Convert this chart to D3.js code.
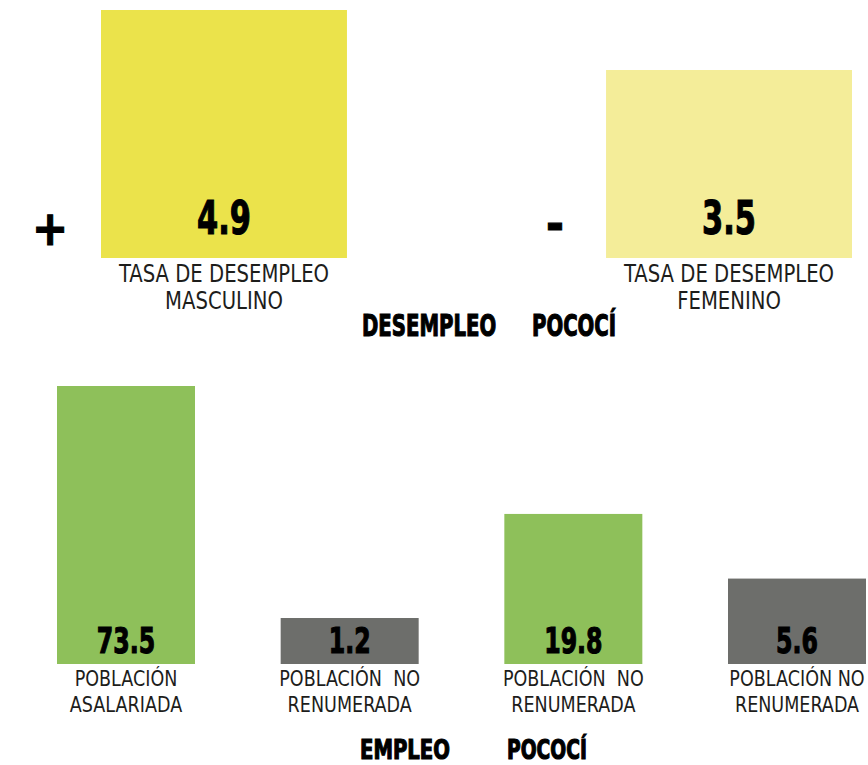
<!DOCTYPE html>
<html>
<head>
<meta charset="utf-8">
<script src="https://cdn.jsdelivr.net/npm/d3@7"></script>
<style>
  html, body { margin: 0; padding: 0; background: #fff; }
  svg { display: block; }
  text { font-family: "Liberation Sans Narrow", "DejaVu Sans Condensed", "Roboto", sans-serif; fill: #1d1d1b; white-space: pre; }
  .val, .title, .sign { font-weight: bold; fill: #000; stroke: #000; stroke-width: 1.1px; }
</style>
</head>
<body>
<div id="chart"></div>
<script>
// ── Data ────────────────────────────────────────────────────────────────
const topValues = [4.9, 3.5];
const topLabels = [["TASA DE DESEMPLEO", "MASCULINO"], ["TASA DE DESEMPLEO", "FEMENINO"]];
const topSigns = ["+", "-"];
const topColors = ["#ebe34b", "#f4ed99"];

const bottomValues = [73.5, 1.2, 19.8, 5.6];
const bottomLabels = [
  ["POBLACIÓN", "ASALARIADA"],
  ["POBLACIÓN  NO", "RENUMERADA"],
  ["POBLACIÓN  NO", "RENUMERADA"],
  ["POBLACIÓN NO", "RENUMERADA"]
];
const bottomColors = ["#8ec05a", "#6d6e6b", "#8ec05a", "#6d6e6b"];

const topTitle = ["DESEMPLEO", "POCOCÍ"];
const bottomTitle = ["EMPLEO", "POCOCÍ"];

// squeeze a text horizontally around its anchor (no narrow font available)
function condense(sel, f) {
  sel.each(function () {
    const t = d3.select(this);
    const x = +t.attr('x'), y = +t.attr('y');
    t.attr('x', 0).attr('y', 0).attr('transform', `translate(${x},${y}) scale(${f},1)`);
  });
}

// ── Chart ───────────────────────────────────────────────────────────────
const W = 868, H = 765;
const svg = d3.select('#chart').append('svg').attr('width', W).attr('height', H);

// top block
const topBase = 258;
const xTop = d3.scaleBand().domain(d3.range(topValues.length)).range([101, 852]).paddingInner(0.513);
const hTop = d3.scaleLinear().domain([0, 4.9]).range([38, 248]);

const topBars = svg.append('g').selectAll('g.bar').data(topValues).enter().append('g').attr('class', 'bar');

topBars.append('rect')
  .attr('x', (d, i) => xTop(i))
  .attr('y', d => topBase - hTop(d))
  .attr('width', xTop.bandwidth())
  .attr('height', d => hTop(d))
  .attr('fill', (d, i) => topColors[i]);

topBars.append('text')
  .attr('class', 'val')
  .attr('x', (d, i) => xTop(i) + xTop.bandwidth() / 2)
  .attr('y', topBase - 24)
  .attr('text-anchor', 'middle')
  .attr('font-size', 47)
  .text(d => d.toFixed(1))
  .call(condense, 0.72);

topBars.append('text')
  .attr('class', 'sign')
  .attr('x', (d, i) => xTop(i) - 51)
  .attr('y', (d, i) => i === 0 ? 245 : 240)
  .attr('text-anchor', 'middle')
  .attr('font-size', 48)
  .text((d, i) => topSigns[i]);

topBars.each(function (d, i) {
  const cx = xTop(i) + xTop.bandwidth() / 2;
  d3.select(this).selectAll('text.lbl').data(topLabels[i]).enter().append('text')
    .attr('class', 'lbl')
    .attr('text-anchor', 'middle')
    .attr('font-size', 24)
    .attr('x', cx)
    .attr('y', (line, k) => topBase + 24 + k * 27)
    .text(line => line)
    .call(condense, 0.91);
});

// top title
svg.append('text').attr('class', 'title').attr('x', 362).attr('y', 336).attr('font-size', 30)
  .text(topTitle[0]).call(condense, 0.73);
svg.append('text').attr('class', 'title').attr('x', 532).attr('y', 336).attr('font-size', 30)
  .text(topTitle[1]).call(condense, 0.73);

// bottom block
const botBase = 664;
const xBot = d3.scaleBand().domain(d3.range(bottomValues.length)).range([57, 866]).paddingInner(0.383);
const hBot = d3.scalePow().exponent(0.5).domain([0, 73.5]).range([12, 278]);

const bottomBars = svg.append('g').selectAll('g.bar').data(bottomValues).enter().append('g').attr('class', 'bar');

bottomBars.append('rect')
  .attr('x', (d, i) => xBot(i))
  .attr('y', d => botBase - hBot(d))
  .attr('width', xBot.bandwidth())
  .attr('height', d => hBot(d))
  .attr('fill', (d, i) => bottomColors[i]);

bottomBars.append('text')
  .attr('class', 'val')
  .attr('x', (d, i) => xBot(i) + xBot.bandwidth() / 2)
  .attr('y', botBase - 11)
  .attr('text-anchor', 'middle')
  .attr('font-size', 36)
  .text(d => d.toFixed(1))
  .call(condense, 0.73);

bottomBars.each(function (d, i) {
  const cx = xBot(i) + xBot.bandwidth() / 2;
  d3.select(this).selectAll('text.lbl').data(bottomLabels[i]).enter().append('text')
    .attr('class', 'lbl')
    .attr('text-anchor', 'middle')
    .attr('font-size', 21)
    .attr('x', cx)
    .attr('y', (line, k) => botBase + 22 + k * 26)
    .text(line => line)
    .call(condense, 0.93);
});

// bottom title
svg.append('text').attr('class', 'title').attr('x', 360).attr('y', 759).attr('font-size', 26)
  .text(bottomTitle[0]).call(condense, 0.84);
svg.append('text').attr('class', 'title').attr('x', 507).attr('y', 759).attr('font-size', 26)
  .text(bottomTitle[1]).call(condense, 0.8);
</script>
</body>
</html>
